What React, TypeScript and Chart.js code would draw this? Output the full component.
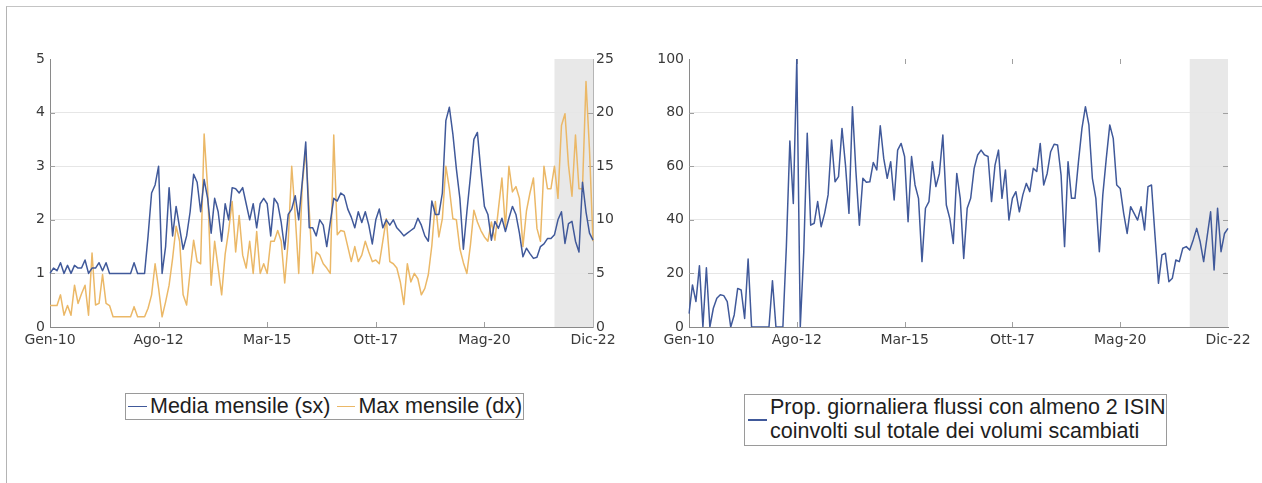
import React, { useEffect, useRef } from 'react';
import { Chart, registerables } from 'chart.js';

Chart.register(...registerables);

// ---------- categories ----------
const monthNames = ['Gen', 'Feb', 'Mar', 'Apr', 'Mag', 'Giu', 'Lug', 'Ago', 'Set', 'Ott', 'Nov', 'Dic'];
const yearSuffixes = ['10', '11', '12', '13', '14', '15', '16', '17', '18', '19', '20', '21', '22'];
const months: string[] = [];
for (const y of yearSuffixes) for (const m of monthNames) months.push(`${m}-${y}`);

const tickLabels = ['Gen-10', 'Ago-12', 'Mar-15', 'Ott-17', 'Mag-20', 'Dic-22'];
const shadeStartLabel = 'Gen-22';

const leftTicksSx = [0, 1, 2, 3, 4, 5];
const rightTicksDx = [0, 5, 10, 15, 20, 25];
const propTicks = [0, 20, 40, 60, 80, 100];

// ---------- series ----------
const mediaMensile = [
  1.0, 1.1, 1.05, 1.2, 1.0, 1.15, 1.0, 1.15, 1.1, 1.1,
  1.25, 1.0, 1.1, 1.1, 1.2, 1.05, 1.2, 1.0, 1.0, 1.0,
  1.0, 1.0, 1.0, 1.0, 1.2, 1.0, 1.0, 1.0, 1.7, 2.5,
  2.65, 3.0, 1.0, 1.5, 2.6, 1.7, 2.25, 1.85, 1.45, 1.7,
  2.15, 2.85, 2.7, 2.15, 2.75, 2.4, 1.75, 2.4, 2.15, 1.6,
  2.3, 2.0, 2.6, 2.58, 2.5, 2.6, 2.3, 2.0, 2.3, 1.85,
  2.3, 2.4, 2.3, 1.7, 2.4, 2.3, 1.95, 1.45, 2.1, 2.2,
  2.45, 2.0, 2.7, 3.45, 1.85, 1.85, 1.7, 2.0, 1.9, 1.5,
  1.95, 2.4, 2.35, 2.5, 2.45, 2.2, 2.05, 1.85, 2.15, 1.95,
  2.15, 1.9, 1.55, 2.0, 2.2, 1.85, 2.0, 1.9, 2.0, 1.85,
  1.78, 1.7, 1.75, 1.8, 1.85, 2.03, 1.9, 1.7, 1.6, 2.35,
  2.1, 2.1, 2.5, 3.85, 4.1, 3.6, 2.95, 2.4, 1.45, 2.15,
  2.8, 3.5, 3.63, 2.9, 2.25, 2.1, 1.62, 1.97, 1.84, 2.03,
  1.78, 2.03, 2.25, 2.1, 1.75, 1.31, 1.47, 1.37, 1.28, 1.3,
  1.5, 1.55, 1.65, 1.65, 1.72, 2.0, 2.15, 1.56, 1.93, 1.97,
  1.6, 1.4, 2.7, 2.15, 1.75, 1.62,
];

const maxMensile = [
  2.0, 2.0, 2.0, 3.0, 1.1, 2.0, 1.1, 3.9, 2.2, 3.1,
  3.9, 1.1, 6.9, 2.05, 2.2, 4.9, 2.2, 2.0, 0.95, 0.95,
  0.95, 0.95, 0.95, 0.95, 1.9, 0.95, 0.95, 0.95, 1.75, 3.0,
  5.9, 3.6, 0.95, 2.35, 3.9, 6.4, 9.4, 8.0, 3.0, 2.05,
  5.2, 8.1, 6.1, 5.9, 18.0, 12.9, 3.9, 8.0, 5.5, 3.0,
  6.8, 9.0, 11.7, 7.0, 10.4, 6.7, 5.5, 8.0, 5.0, 8.9,
  5.0, 5.9, 5.0, 8.0, 8.0, 9.0, 8.0, 4.1, 8.0, 15.0,
  10.4, 5.0, 13.2, 16.5, 10.9, 5.0, 7.0, 6.7, 5.9, 5.5,
  5.0, 17.9, 8.6, 9.0, 8.9, 7.5, 6.1, 7.5, 6.1, 6.7,
  8.0, 7.0, 6.1, 6.25, 5.9, 8.0, 10.1, 6.1, 5.9, 5.5,
  4.2, 2.1, 5.9, 4.2, 5.0, 4.5, 3.0, 3.6, 4.9, 7.6,
  11.7, 8.4, 10.1, 15.0, 12.9, 10.1, 10.0, 7.3, 6.0, 5.0,
  7.6, 10.9, 9.8, 9.0, 8.4, 8.0, 9.8, 8.1, 11.0, 13.9,
  9.2, 15.0, 12.6, 13.1, 12.0, 7.5, 10.8, 12.5, 13.9, 9.2,
  8.0, 15.0, 12.9, 12.9, 15.0, 12.0, 18.8, 19.9, 15.1, 12.2,
  17.9, 12.9, 12.9, 22.9, 16.5, 8.0,
];

const propGiornaliera = [
  5, 15.7, 9.5, 22.9, 0, 22.1, 0, 7, 10.7, 12,
  11.7, 9.5, 0, 4.5, 14.4, 13.8, 3.2, 25.4, 0, 0,
  0, 0, 0, 0, 17.3, 0, 0, 0, 30, 69.4,
  46.1, 100, 0, 28, 72.3, 38, 38.7, 46.8, 37.4, 42.4,
  49.3, 69.8, 54.2, 56.1, 74.1, 60.4, 42.4, 82.2, 58, 38,
  55.5, 54, 54.2, 61.4, 58.6, 75.1, 62.9, 55.5, 61.7, 47.4,
  66, 68.5, 63.6, 39.3, 63.6, 53, 48, 24.4, 44.3, 46.8,
  61.7, 52.4, 57.3, 71.6, 45.5, 40.5, 31.2, 57.3, 48, 25.6,
  44.3, 48, 59.2, 64.2, 66, 64.2, 63.6, 46.8, 60.4, 66,
  48, 58.6, 39.9, 48, 50.5, 43, 49.3, 53.6, 50.5, 59.2,
  58, 68.5, 53, 57.3, 65.4, 68.2, 67.9, 56.7, 30, 61.7,
  48, 48, 61.7, 74.1, 82.2, 75.4, 55.5, 48, 28.1, 49.3,
  62.9, 75.4, 70.4, 53, 51.7, 42.4, 34.9, 44.9, 42.4, 39.9,
  44.9, 36.2, 52.4, 53, 34.3, 16.3, 26.9, 27.5, 16.9, 18.2,
  25, 24.4, 29.4, 30, 28.7, 32.5, 36.8, 31.8, 24.4, 33.7,
  43, 21.3, 44.3, 28.1, 34.9, 36.8,
];

// ---------- styles ----------
const BLUE = '#40599a';
const ORANGE = '#ebb867';
const SHADE = '#e8e8e8';
const GRID = '#e6e6e6';
const AXIS = '#8a8a8a';
const TICKMARK = '#a0a0a0';
const TICK_COLOR = '#3a3a3a';
const tickFont = { family: "'DejaVu Sans', sans-serif", size: 14 };

const tickIdx = tickLabels.map((l) => months.indexOf(l));
const shadeIdx = months.indexOf(shadeStartLabel);

const shadePlugin = {
  id: 'shade',
  beforeDraw(chart: any, _args: any, opts: any) {
    const { ctx, chartArea: a, scales } = chart;
    const x0 = scales.x.getPixelForValue(opts.from);
    ctx.save();
    ctx.fillStyle = opts.color;
    ctx.fillRect(x0, a.top, a.right - x0, a.bottom - a.top);
    ctx.restore();
  },
};

const innerTicksPlugin = {
  id: 'innerTicks',
  beforeDatasetsDraw(chart: any, _args: any, opts: any) {
    const { ctx, chartArea: a, scales } = chart;
    const L = opts.len;
    ctx.save();
    ctx.strokeStyle = opts.color;
    ctx.lineWidth = 1;
    ctx.beginPath();
    for (const i of opts.xTicks) {
      const x = Math.round(scales.x.getPixelForValue(i)) + 0.5;
      ctx.moveTo(x, a.bottom);
      ctx.lineTo(x, a.bottom - L);
      if (opts.top) {
        ctx.moveTo(x, a.top);
        ctx.lineTo(x, a.top + L);
      }
    }
    for (const v of opts.leftTicks) {
      const y = Math.round(scales.y.getPixelForValue(v)) + 0.5;
      ctx.moveTo(a.left, y);
      ctx.lineTo(a.left + L, y);
    }
    for (const v of opts.rightTicks) {
      const y = Math.round(scales[opts.rightScale].getPixelForValue(v)) + 0.5;
      ctx.moveTo(a.right, y);
      ctx.lineTo(a.right - L, y);
    }
    ctx.stroke();
    ctx.restore();
  },
};

const xScale = (height: number) => ({
  type: 'category',
  grid: { display: true, drawOnChartArea: false, drawTicks: false },
  border: { color: AXIS, width: 1 },
  ticks: {
    autoSkip: false,
    maxRotation: 0,
    minRotation: 0,
    padding: 5,
    color: TICK_COLOR,
    font: tickFont,
    callback: (_v: any, i: number) => (tickIdx.includes(i) ? months[i] : ''),
  },
  afterFit: (s: any) => {
    s.height = height;
  },
});

function LeftChart() {
  const ref = useRef<HTMLCanvasElement>(null);
  useEffect(() => {
    const chart = new Chart(ref.current as HTMLCanvasElement, {
      type: 'line',
      data: {
        labels: months,
        datasets: [
          {
            label: 'Media mensile (sx)',
            data: mediaMensile,
            borderColor: BLUE,
            backgroundColor: BLUE,
            borderWidth: 1.5,
            pointRadius: 0,
            tension: 0,
            borderJoinStyle: 'round',
            yAxisID: 'y',
          },
          {
            label: 'Max mensile (dx)',
            data: maxMensile,
            borderColor: ORANGE,
            backgroundColor: ORANGE,
            borderWidth: 1.5,
            pointRadius: 0,
            tension: 0,
            borderJoinStyle: 'round',
            yAxisID: 'y1',
          },
        ],
      },
      options: {
        animation: false,
        responsive: false,
        layout: { padding: { top: 59, left: 0, right: 0, bottom: 0 } },
        plugins: {
          legend: { display: false },
          tooltip: { enabled: false },
          shade: { from: shadeIdx, color: SHADE },
          innerTicks: {
            len: 5,
            color: TICKMARK,
            top: false,
            xTicks: tickIdx.slice(1, -1),
            leftTicks: leftTicksSx.slice(1, -1),
            rightTicks: rightTicksDx.slice(1, -1),
            rightScale: 'y1',
          },
        } as any,
        scales: {
          x: xScale(33) as any,
          y: {
            position: 'left',
            min: 0,
            max: 5,
            afterBuildTicks: (s: any) => {
              s.ticks = leftTicksSx.map((v) => ({ value: v }));
            },
            ticks: { padding: 5, color: TICK_COLOR, font: tickFont },
            grid: {
              drawTicks: false,
              color: (c: any) => (c.tick && (c.tick.value === 0 || c.tick.value === 5) ? 'rgba(0,0,0,0)' : GRID),
            },
            border: { color: AXIS, width: 1 },
            afterFit: (s: any) => {
              s.width = 50;
            },
          } as any,
          y1: {
            position: 'right',
            min: 0,
            max: 25,
            afterBuildTicks: (s: any) => {
              s.ticks = rightTicksDx.map((v) => ({ value: v }));
            },
            ticks: { padding: 3, color: TICK_COLOR, font: tickFont },
            grid: { drawOnChartArea: false, drawTicks: false },
            border: { color: '#b5b5b5', width: 1 },
            afterFit: (s: any) => {
              s.width = 47;
            },
          } as any,
        },
      },
      plugins: [shadePlugin, innerTicksPlugin],
    } as any);
    return () => chart.destroy();
  }, []);
  return <canvas ref={ref} width={640} height={360} style={{ position: 'absolute', left: 0, top: 0 }} />;
}

function RightChart() {
  const ref = useRef<HTMLCanvasElement>(null);
  useEffect(() => {
    const chart = new Chart(ref.current as HTMLCanvasElement, {
      type: 'line',
      data: {
        labels: months,
        datasets: [
          {
            label: 'Prop. giornaliera flussi con almeno 2 ISIN coinvolti sul totale dei volumi scambiati',
            data: propGiornaliera,
            borderColor: BLUE,
            backgroundColor: BLUE,
            borderWidth: 1.5,
            pointRadius: 0,
            tension: 0,
            borderJoinStyle: 'round',
            yAxisID: 'y',
          },
        ],
      },
      options: {
        animation: false,
        responsive: false,
        layout: { padding: { top: 59, left: 0, right: 34, bottom: 0 } },
        plugins: {
          legend: { display: false },
          tooltip: { enabled: false },
          shade: { from: shadeIdx, color: SHADE },
          innerTicks: {
            len: 5,
            color: TICKMARK,
            top: true,
            xTicks: tickIdx.slice(1, -1),
            leftTicks: propTicks.slice(1, -1),
            rightTicks: propTicks.slice(1, -1),
            rightScale: 'y',
          },
        } as any,
        scales: {
          x: xScale(33) as any,
          y: {
            position: 'left',
            min: 0,
            max: 100,
            afterBuildTicks: (s: any) => {
              s.ticks = propTicks.map((v) => ({ value: v }));
            },
            ticks: { padding: 5, color: TICK_COLOR, font: tickFont },
            grid: {
              drawTicks: false,
              color: (c: any) => (c.tick && (c.tick.value === 0 || c.tick.value === 100) ? 'rgba(0,0,0,0)' : GRID),
            },
            border: { color: AXIS, width: 1 },
            afterFit: (s: any) => {
              s.width = 58;
            },
          } as any,
        },
      },
      plugins: [shadePlugin, innerTicksPlugin],
    } as any);
    return () => chart.destroy();
  }, []);
  return <canvas ref={ref} width={631} height={360} style={{ position: 'absolute', left: 631, top: 0 }} />;
}

const legendFont: React.CSSProperties = {
  fontFamily: "'Liberation Sans', Arial, sans-serif",
  fontSize: '21.5px',
  color: '#1e1e1e',
  whiteSpace: 'nowrap',
};

function Sample({ color, width }: { color: string; width: number }) {
  return <span style={{ display: 'inline-block', width, height: 1.5, background: color, flex: 'none' }} />;
}

export default function App() {
  return (
    <div style={{ position: 'absolute', left: 0, top: 0, width: 1262, height: 483, overflow: 'hidden', background: '#fff' }}>
      <div
        style={{
          position: 'absolute',
          left: 6,
          top: 6,
          width: 1400,
          height: 600,
          borderTop: '1px solid #c4c4c4',
          borderLeft: '1px solid #b4b4b4',
        }}
      />
      <LeftChart />
      <RightChart />
      {/* left legend */}
      <div
        style={{
          position: 'absolute',
          left: 125,
          top: 393,
          width: 397,
          height: 25,
          border: '1px solid #9a9a9a',
          display: 'flex',
          alignItems: 'center',
          ...legendFont,
          lineHeight: '25px',
        }}
      >
        <span style={{ width: 2, flex: 'none' }} />
        <Sample color={BLUE} width={19} />
        <span style={{ marginLeft: 3 }}>Media mensile (sx)</span>
        <span style={{ width: 7, flex: 'none' }} />
        <Sample color={ORANGE} width={18} />
        <span style={{ marginLeft: 3 }}>Max mensile (dx)</span>
      </div>
      {/* right legend */}
      <div
        style={{
          position: 'absolute',
          left: 744,
          top: 394,
          width: 421,
          height: 50,
          border: '1px solid #9a9a9a',
          display: 'flex',
          alignItems: 'center',
          ...legendFont,
        }}
      >
        <span style={{ width: 3, flex: 'none' }} />
        <Sample color={BLUE} width={19} />
        <div style={{ marginLeft: 3, lineHeight: '24px', marginTop: -2 }}>
          Prop. giornaliera flussi con almeno 2 ISIN
          <br />
          coinvolti sul totale dei volumi scambiati
        </div>
      </div>
    </div>
  );
}
